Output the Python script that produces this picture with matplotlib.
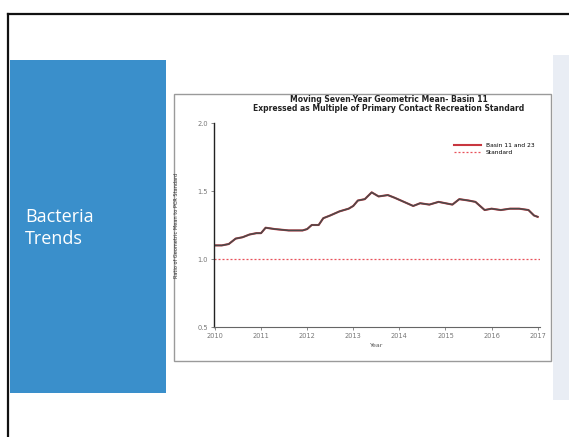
import matplotlib.pyplot as plt
from matplotlib.patches import Rectangle
from matplotlib.lines import Line2D

# ── Data ──────────────────────────────────────────────────────────────────────

years = [2010.00, 2010.15, 2010.30, 2010.45, 2010.60, 2010.75, 2010.90, 2011.00,
         2011.10, 2011.30, 2011.60, 2011.90, 2012.00, 2012.10, 2012.25, 2012.35,
         2012.50, 2012.70, 2012.90, 2013.00, 2013.10, 2013.25, 2013.40, 2013.55,
         2013.75, 2013.90, 2014.10, 2014.30, 2014.45, 2014.65, 2014.85, 2015.00,
         2015.15, 2015.30, 2015.50, 2015.65, 2015.85, 2016.00, 2016.20, 2016.40,
         2016.60, 2016.80, 2016.92, 2017.00]
ratio = [1.10, 1.10, 1.11, 1.15, 1.16, 1.18, 1.19, 1.19,
         1.23, 1.22, 1.21, 1.21, 1.22, 1.25, 1.25, 1.30,
         1.32, 1.35, 1.37, 1.39, 1.43, 1.44, 1.49, 1.46,
         1.47, 1.45, 1.42, 1.39, 1.41, 1.40, 1.42, 1.41,
         1.40, 1.44, 1.43, 1.42, 1.36, 1.37, 1.36, 1.37,
         1.37, 1.36, 1.32, 1.31]
standard = 1.0

xticks = [2010, 2011, 2012, 2013, 2014, 2015, 2016, 2017]
yticks = [0.5, 1.0, 1.5, 2.0]

# ── Slide background ──────────────────────────────────────────────────────────

fig = plt.figure(figsize=(5.69, 4.37), dpi=100)
fig.patch.set_facecolor("white")

# black slide border (top + left)
fig.add_artist(Line2D([8/569, 1], [1 - 14/437] * 2, color="#111111", lw=1.6))
fig.add_artist(Line2D([8/569] * 2, [0, 1 - 14/437], color="#111111", lw=1.6))

# blue title block
fig.add_artist(Rectangle((10/569, 1 - 393/437), 156/569, 333/437,
                         facecolor="#3a8fcb", edgecolor="none"))
fig.text(25/569, 1 - 228/437, "Bacteria\nTrends", color="white",
         fontsize=13, family="Open Sans", va="center", ha="left",
         linespacing=1.25)

# faint strip on the right edge
fig.add_artist(Rectangle((553/569, 1 - 400/437), 16/569, 345/437,
                         facecolor="#e9edf4", edgecolor="none"))

# white chart card
fig.add_artist(Rectangle((174/569, 1 - 361/437), 377/569, 267/437,
                         facecolor="white", edgecolor="#9a9a9a", lw=1.0))

# ── Chart ─────────────────────────────────────────────────────────────────────

ax = fig.add_axes([214/569, 1 - 327/437, 326/569, 204/437])
ax.set_facecolor("none")
ax.set_zorder(5)   # keep the chart above the card

ax.plot(years, ratio, color="#c8363f", lw=1.5, label="Basin 11 and 23")
ax.plot(years, ratio, color="#4a4a4a", lw=1.1)
ax.axhline(standard, xmin=0, xmax=1, color="#e8505a", lw=0.9,
           ls=(0, (1.6, 1.6)), label="Standard")

ax.set_xlim(2009.98, 2017.05)
ax.set_ylim(0.5, 2.0)
ax.set_xticks(xticks)
ax.set_yticks(yticks)
ax.set_xticklabels([str(y) for y in xticks], fontsize=4.8, color="#55607a")
ax.set_yticklabels([f"{v:.1f}" for v in yticks], fontsize=4.8, color="#555555")
ax.tick_params(length=2.5, width=0.6, pad=2, colors="#777777")

for side in ["top", "right"]:
    ax.spines[side].set_visible(False)
ax.spines["left"].set_color("#222222")
ax.spines["left"].set_linewidth(1.0)
ax.spines["bottom"].set_color("#666666")
ax.spines["bottom"].set_linewidth(0.8)

ax.set_xlabel("Year", fontsize=4.5, color="#555555", labelpad=3)
ax.set_ylabel("Ratio of Geometric Mean to PCR Standard", fontsize=3.6,
              color="#333333", labelpad=13)

ax.legend(loc="upper right", bbox_to_anchor=(1.0, 0.93), fontsize=4.3,
          frameon=False, handlelength=4.5, labelspacing=0.3)

fig.text(389/569, 1 - 104/437,
         "Moving Seven-Year Geometric Mean- Basin 11\n"
         "Expressed as Multiple of Primary Contact Recreation Standard",
         fontsize=5.5, fontweight="bold", ha="center", va="center",
         color="#222222", linespacing=1.1, zorder=6)

plt.savefig("out.png", dpi=100)
